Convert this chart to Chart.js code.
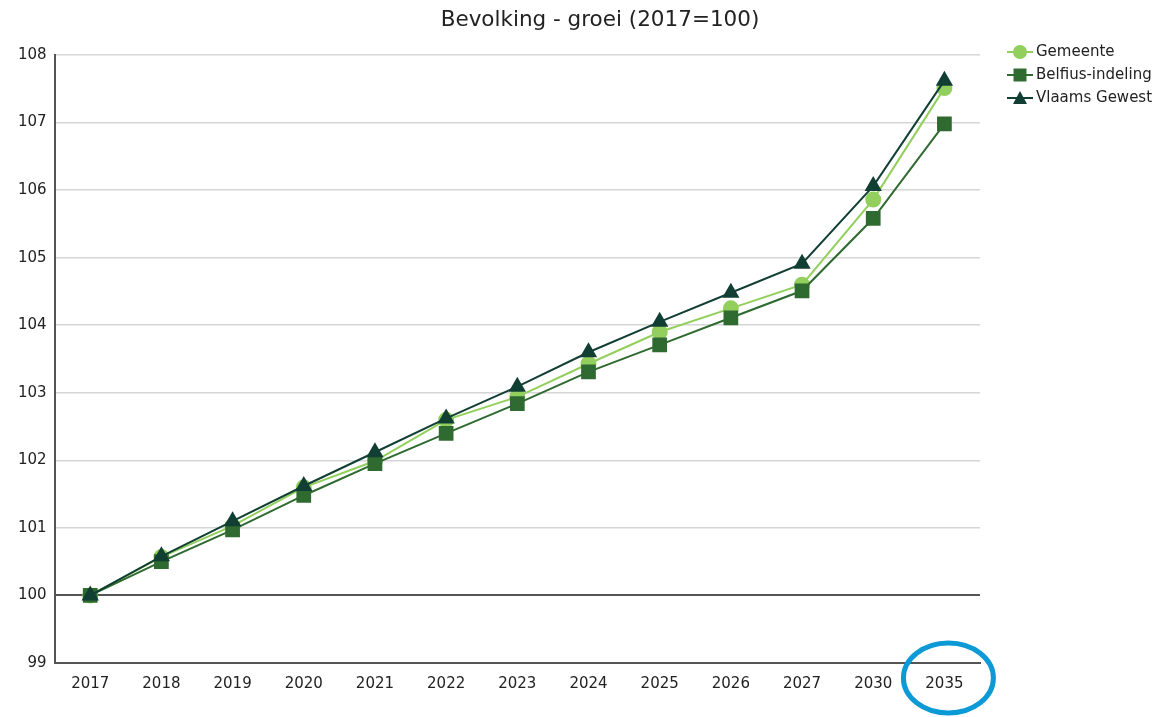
<!DOCTYPE html>
<html>
<head>
<meta charset="utf-8">
<script src="https://cdn.jsdelivr.net/npm/chart.js@4.4.0/dist/chart.umd.min.js"></script>
<style>
  html, body { margin: 0; padding: 0; background: #fff; }
  #wrap { width: 1159px; height: 717px; }
</style>
</head>
<body>
<div id="wrap"><canvas id="growthChart" width="1159" height="717"></canvas></div>
<script>
// data
const years = ['2017', '2018', '2019', '2020', '2021', '2022', '2023', '2024', '2025', '2026', '2027', '2030', '2035'];
const gemeente = [100, 100.57, 101.03, 101.6, 101.99, 102.6, 102.94, 103.43, 103.9, 104.25, 104.6, 105.86, 107.51];
const belfius = [100, 100.5, 100.97, 101.48, 101.95, 102.4, 102.84, 103.31, 103.71, 104.11, 104.51, 105.58, 106.98];
const vlaams = [100, 100.58, 101.1, 101.62, 102.12, 102.62, 103.09, 103.6, 104.05, 104.48, 104.91, 106.06, 107.62];
const yTicks = [99, 100, 101, 102, 103, 104, 105, 106, 107, 108];
const title = 'Bevolking - groei (2017=100)';

const colGem = '#92cf5c';
const colBel = '#2f6a30';
const colVla = '#123f33';
const FONT = '"DejaVu Sans", Verdana, sans-serif';

// marker drawn with the same shapes as the series
function drawMarker(g, style, x, y, color) {
  g.fillStyle = color;
  g.beginPath();
  if (style === 'circle') g.arc(x, y, 7, 0, Math.PI * 2);
  else if (style === 'rect') g.rect(x - 6.5, y - 6.5, 13, 13);
  else { g.moveTo(x, y - 7); g.lineTo(x + 7, y + 6); g.lineTo(x - 7, y + 6); g.closePath(); }
  g.fill();
}

// title, legend (line + marker) and the blue ring round 2035
const extrasPlugin = {
  id: 'extras',
  afterDraw(chart) {
    const g = chart.ctx;
    g.save();
    g.fillStyle = '#222';
    g.font = '21.5px ' + FONT;
    g.textAlign = 'center';
    g.textBaseline = 'middle';
    g.fillText(title, 600, 20);

    g.font = '15px ' + FONT;
    g.textAlign = 'left';
    chart.data.datasets.forEach((ds, i) => {
      const y = 52 + i * 23;
      g.strokeStyle = ds.borderColor;
      g.lineWidth = 2;
      g.beginPath(); g.moveTo(1007, y); g.lineTo(1033, y); g.stroke();
      drawMarker(g, ds.pointStyle, 1020, y, ds.borderColor);
      g.fillStyle = '#222';
      g.fillText(ds.label, 1036, y);
    });

    const x = chart.scales.x.getPixelForValue(years.length - 1);
    const yr = chart.scales.x.top + 15;
    g.strokeStyle = '#0c9ad6';
    g.lineWidth = 5;
    g.beginPath();
    g.ellipse(x + 4, yr, 45, 35, 0, 0, Math.PI * 2);
    g.stroke();
    g.restore();
  }
};

const ctx = document.getElementById('growthChart').getContext('2d');
new Chart(ctx, {
  type: 'line',
  data: {
    labels: years,
    datasets: [
      {
        label: 'Gemeente',
        data: gemeente,
        borderColor: colGem, backgroundColor: colGem,
        borderWidth: 2, pointStyle: 'circle', pointRadius: 7,
        pointHoverRadius: 7, order: 3
      },
      {
        label: 'Belfius-indeling',
        data: belfius,
        borderColor: colBel, backgroundColor: colBel,
        borderWidth: 2, pointStyle: 'rect', pointRadius: 9,
        pointHoverRadius: 9, order: 2
      },
      {
        label: 'Vlaams Gewest',
        data: vlaams,
        borderColor: colVla, backgroundColor: colVla,
        borderWidth: 2, pointStyle: 'triangle', pointRadius: 8,
        pointHoverRadius: 8, order: 1
      }
    ]
  },
  options: {
    responsive: false,
    animation: false,
    layout: { padding: { left: 10, right: 179, bottom: 12, top: 55 } },
    scales: {
      x: {
        offset: true,
        grid: { display: false, drawTicks: false },
        border: { color: '#555', width: 2 },
        ticks: { color: '#222', font: { family: FONT, size: 15 }, padding: 12, maxRotation: 0 }
      },
      y: {
        min: 99, max: 108,
        afterBuildTicks(axis) { axis.ticks = yTicks.map(v => ({ value: v })); },
        grid: {
          drawTicks: false,
          color: c => (c.tick && c.tick.value === 100 ? '#555' : '#d6d6d6'),
          lineWidth: c => (c.tick && c.tick.value === 100 ? 2 : 1.5)
        },
        border: { color: '#555', width: 2 },
        ticks: { color: '#222', font: { family: FONT, size: 15 }, padding: 8 }
      }
    },
    plugins: {
      title: { display: false },
      legend: { display: false },
      tooltip: { enabled: false }
    }
  },
  plugins: [extrasPlugin]
});
</script>
</body>
</html>
